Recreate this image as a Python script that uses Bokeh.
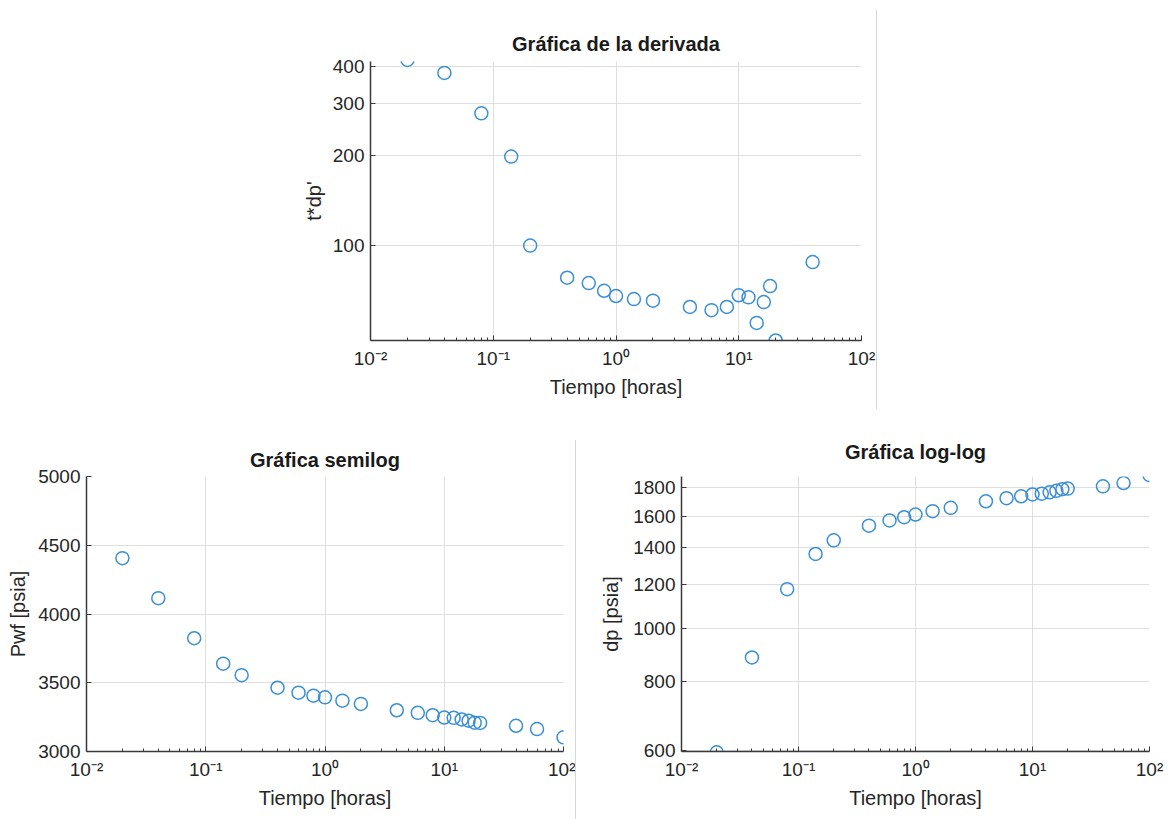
from bokeh.plotting import figure
from bokeh.models import FixedTicker, CustomJSTickFormatter, BasicTickFormatter, Div, Spacer, Range1d
from bokeh.layouts import column, row
from bokeh.embed import file_html
from bokeh.resources import INLINE

# ---------------- data ----------------
tiempo = [0.02, 0.04, 0.08, 0.14, 0.2, 0.4, 0.6, 0.8, 1, 1.4, 2, 4, 6, 8,
          10, 12, 14, 16, 18, 20, 40, 60, 100]
pwf = [4406, 4115, 3824, 3639, 3555, 3464, 3428, 3406, 3394, 3370, 3346, 3300,
       3281, 3264, 3247, 3245, 3233, 3224, 3210, 3208, 3187, 3163, 3103]
dp = [595, 885, 1178, 1365, 1445, 1537, 1571, 1592, 1610, 1633, 1656, 1702,
      1724, 1738, 1751, 1757, 1767, 1778, 1790, 1795, 1812, 1837, 1899]
tiempo_der = [0.02, 0.04, 0.08, 0.14, 0.2, 0.4, 0.6, 0.8, 1, 1.4, 2, 4, 6, 8,
              10, 12, 14, 16, 18, 20, 40]
t_dp = [420, 380, 278, 199, 100, 78, 74.8, 70.5, 67.7, 66.1, 65.3, 62.2,
        60.7, 62.2, 68.1, 67.0, 55.0, 64.6, 73.1, 48.0, 88.0]

x_ticks = [0.01, 0.1, 1, 10, 100]
x_minor = [k * 10.0 ** e for e in range(-2, 2) for k in range(2, 10)]
der_ticks = [100, 200, 300, 400]
semilog_ticks = [3000, 3500, 4000, 4500, 5000]
loglog_ticks = [600, 800, 1000, 1200, 1400, 1600, 1800]

# axis limits
der_lim = (48, 415)
semilog_lim = (3000, 5000)
loglog_lim = (597, 1888)

# --------------- styling ---------------
FONT = "Liberation Sans"
TXT = "#262626"
AX = "#3a3a3a"
BLUE = "#3a8fd6"
GRID = "#dfdfdf"

sup_fmt = CustomJSTickFormatter(code="""
const e = Math.round(Math.log10(tick));
const m = {'-':'\\u207B','0':'\\u2070','1':'\\u00B9','2':'\\u00B2','3':'\\u00B3',
           '4':'\\u2074','5':'\\u2075','6':'\\u2076','7':'\\u2077','8':'\\u2078','9':'\\u2079'};
return '10' + String(e).split('').map(c => m[c]).join('');
""")


def style(p, title, xlabel, ylabel, yticks, y_ls, t_stand):
    p.title.text = title
    p.title.align = "center"
    p.title.text_font = FONT
    p.title.text_font_size = "20px"
    p.title.text_font_style = "bold"
    p.title.text_color = "#1a1a1a"
    p.title.standoff = t_stand
    p.outline_line_color = None
    p.xaxis.ticker = FixedTicker(ticks=x_ticks, minor_ticks=x_minor)
    p.xaxis.formatter = sup_fmt
    p.yaxis.ticker = FixedTicker(ticks=yticks, minor_ticks=[])
    p.yaxis.formatter = BasicTickFormatter(use_scientific=False)
    p.xaxis.axis_label = xlabel
    p.yaxis.axis_label = ylabel
    for ax in (p.xaxis[0], p.yaxis[0]):
        ax.axis_line_color = AX
        ax.axis_line_width = 1.5
        ax.major_tick_line_color = AX
        ax.minor_tick_line_color = AX
        ax.major_tick_in = 5
        ax.major_tick_out = 0
        ax.minor_tick_in = 3
        ax.minor_tick_out = 0
        ax.major_label_text_font = FONT
        ax.major_label_text_font_size = "19px"
        ax.major_label_text_color = TXT
        ax.axis_label_text_font = FONT
        ax.axis_label_text_font_size = "20px"
        ax.axis_label_text_font_style = "normal"
        ax.axis_label_text_color = TXT
    p.xaxis.major_label_standoff = 7
    p.yaxis.major_label_standoff = 6
    p.yaxis.axis_label_standoff = y_ls
    p.xaxis.axis_label_standoff = 4
    p.xgrid.grid_line_color = GRID
    p.ygrid.grid_line_color = GRID
    p.xgrid.grid_line_width = 1
    p.ygrid.grid_line_width = 1


def dots(p, x, y):
    p.scatter(x, y, marker="circle", size=13, fill_color=None,
              line_color=BLUE, line_width=1.5)


# ---------- top: derivative ----------
p1 = figure(width=626, height=410, x_axis_type="log", y_axis_type="log",
            x_range=Range1d(0.01, 100), y_range=Range1d(*der_lim),
            output_backend="svg", toolbar_location=None,
            min_border_left=120, min_border_right=15, min_border_top=61, min_border_bottom=70)
dots(p1, tiempo_der, t_dp)
style(p1, "Gráfica de la derivada", "Tiempo [horas]", "t*dp'", der_ticks, 5, 14)

# ---------- bottom left: semilog ----------
p2 = figure(width=575, height=409, x_axis_type="log",
            x_range=Range1d(0.01, 100), y_range=Range1d(*semilog_lim),
            output_backend="svg", toolbar_location=None,
            min_border_left=86, min_border_right=12, min_border_top=66, min_border_bottom=66)
dots(p2, tiempo, pwf)
style(p2, "Gráfica semilog", "Tiempo [horas]", "Pwf [psia]", semilog_ticks, 6, 11)

# ---------- bottom right: log-log ----------
p3 = figure(width=597, height=409, x_axis_type="log", y_axis_type="log",
            x_range=Range1d(0.01, 100), y_range=Range1d(*loglog_lim),
            output_backend="svg", toolbar_location=None,
            min_border_left=105, min_border_right=24, min_border_top=62, min_border_bottom=68)
dots(p3, tiempo, dp)
style(p3, "Gráfica log-log", "Tiempo [horas]", "dp [psia]", loglog_ticks, 8, 27)

sep_top = Div(text="", width=1, height=399, margin=(10, 0, 0, 0),
              styles={"background-color": "#d6d6d6"})
sep_bot = Div(text="", width=1, height=379, margin=(30, 0, 0, 0),
              styles={"background-color": "#d6d6d6"})

layout = column(
    row(Spacer(width=250, height=410), p1, sep_top, Spacer(width=296, height=410)),
    row(p2, sep_bot, p3),
)

open("out.html", "w").write(file_html(layout, INLINE))
